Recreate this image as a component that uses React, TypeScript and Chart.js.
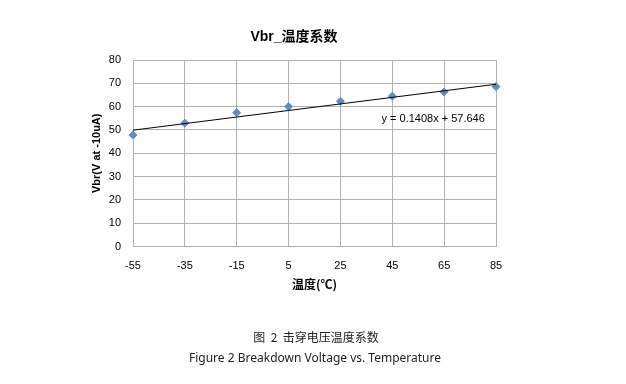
import React, { useEffect, useRef } from "react";
import { Chart, registerables } from "chart.js";

Chart.register(...registerables);

const temperatures = [-55, -35, -15, 5, 25, 45, 65, 85];
const vbrValues = [47.8, 52.9, 57.4, 60.0, 62.3, 64.5, 66.3, 68.6];
const trendX = [-55, 85];
const trendY = [49.9, 69.6];
const trendLabel = "y = 0.1408x + 57.646";
const chartTitle = "Vbr_温度系数";
const xTitle = "温度(℃)";
const yTitle = "Vbr(V at -10uA)";
const captionCn = "图  2  击穿电压温度系数";
const captionEn = "Figure 2 Breakdown Voltage vs. Temperature";

const trendLabelPlugin = {
  id: "trendLabel",
  afterDatasetsDraw(chart: any) {
    const { ctx, scales } = chart;
    const x = scales.x.getPixelForValue(80.7);
    const y = scales.y.getPixelForValue(54.5);
    ctx.save();
    ctx.font = "11px 'Liberation Sans', sans-serif";
    ctx.fillStyle = "#000";
    ctx.textAlign = "right";
    ctx.textBaseline = "middle";
    ctx.fillText(trendLabel, x, y);
    ctx.restore();
  },
};

export default function App() {
  const ref = useRef<HTMLCanvasElement>(null);
  useEffect(() => {
    if (!ref.current) return;
    const tickFont = { family: "'Liberation Sans', sans-serif", size: 11 };
    const chart = new Chart(ref.current, {
      type: "scatter",
      data: {
        datasets: [
          {
            type: "line",
            label: "trend",
            data: trendX.map((x, i) => ({ x, y: trendY[i] })),
            borderColor: "#000",
            borderWidth: 1,
            pointRadius: 0,
            fill: false,
            clip: false,
          } as any,
          {
            label: "Vbr",
            data: temperatures.map((x, i) => ({ x, y: vbrValues[i] })),
            pointStyle: "rectRot",
            pointRadius: 4,
            backgroundColor: "#5b8ec9",
            borderColor: "#5b8ec9",
            borderWidth: 1,
            clip: false,
          } as any,
        ],
      },
      plugins: [trendLabelPlugin],
      options: {
        animation: false,
        responsive: false,
        layout: { padding: { left: 86, right: 130, top: 60, bottom: 88 } },
        plugins: { legend: { display: false }, tooltip: { enabled: false } },
        scales: {
          x: {
            type: "linear",
            min: -55,
            max: 85,
            afterBuildTicks: (scale: any) => {
              scale.ticks = temperatures.map((v) => ({ value: v }));
            },
            afterFit: (scale: any) => {
              scale.height = 49.5;
            },
            grid: { color: "#b0b0b0", drawTicks: false },
            border: { color: "#b0b0b0" },
            ticks: { font: tickFont, color: "#000", padding: 13, maxRotation: 0 },
            title: {
              display: true,
              text: xTitle,
              color: "#000",
              font: { family: "'Noto Sans CJK SC', sans-serif", size: 12, weight: "bold" },
            },
          },
          y: {
            min: 0,
            max: 80,
            afterFit: (scale: any) => {
              scale.width = 47;
            },
            grid: { color: "#b0b0b0", drawTicks: false },
            border: { color: "#b0b0b0" },
            ticks: { stepSize: 10, font: tickFont, color: "#000", padding: 12 },
            title: {
              display: true,
              text: yTitle,
              color: "#000",
              font: { family: "'Liberation Sans', sans-serif", size: 11, weight: "bold" },
            },
          },
        },
      } as any,
    });
    return () => chart.destroy();
  }, []);

  return (
    <div style={{ position: "absolute", left: 0, top: 0, width: 626, height: 384, background: "#fff" }}>
      <canvas ref={ref} width={626} height={384} style={{ position: "absolute", left: 0, top: 0 }} />
      <div
        style={{
          position: "absolute",
          left: 0,
          width: 588,
          top: 25,
          textAlign: "center",
          font: "bold 14px 'Liberation Sans', 'Noto Sans CJK SC', sans-serif",
          color: "#000",
        }}
      >
        {chartTitle}
      </div>
      <div
        style={{
          position: "absolute",
          left: 0,
          width: 632,
          top: 328,
          textAlign: "center",
          font: "12px 'Noto Sans CJK SC', sans-serif",
          color: "#222",
          whiteSpace: "pre",
        }}
      >
        {captionCn}
      </div>
      <div
        style={{
          position: "absolute",
          left: 0,
          width: 630,
          top: 349,
          textAlign: "center",
          font: "12px 'Noto Sans', sans-serif",
          color: "#222",
        }}
      >
        {captionEn}
      </div>
    </div>
  );
}
